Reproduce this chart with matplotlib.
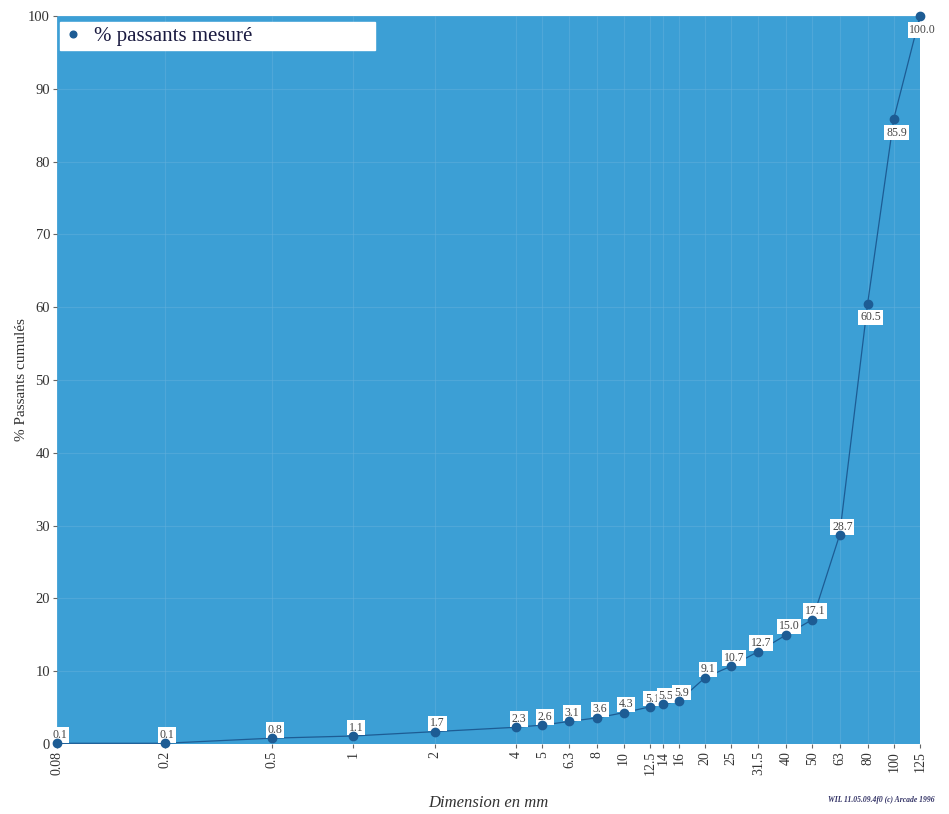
import numpy as np
import matplotlib
matplotlib.use("Agg")
import matplotlib.pyplot as plt
from matplotlib.ticker import FixedLocator, NullLocator

# sieve sizes (mm) and cumulative % passing
sizes = [0.08, 0.2, 0.5, 1, 2, 4, 5, 6.3, 8, 10, 12.5, 14, 16, 20, 25,
         31.5, 40, 50, 63, 80, 100, 125]
passing = [0.1, 0.1, 0.8, 1.1, 1.7, 2.3, 2.6, 3.1, 3.6, 4.3, 5.1, 5.5, 5.9,
           9.1, 10.7, 12.7, 15.0, 17.1, 28.7, 60.5, 85.9, 100.0]
tick_labels = ["0.08", "0.2", "0.5", "1", "2", "4", "5", "6.3", "8", "10",
               "12.5", "14", "16", "20", "25", "31.5", "40", "50", "63",
               "80", "100", "125"]
yticks = [0, 10, 20, 30, 40, 50, 60, 70, 80, 90, 100]

BG = "#3c9fd5"
DOT = "#1d5c94"
SERIF = ["Liberation Serif", "DejaVu Serif"]

plt.rcParams["font.family"] = SERIF

fig = plt.figure(figsize=(9.49, 8.14), dpi=100)
ax = fig.add_axes([57/949, 70/814, 863/949, 728/814])
ax.set_facecolor(BG)
ax.set_xscale("log")
ax.set_xlim(0.08, 125)
ax.set_ylim(0, 100)

ax.xaxis.set_major_locator(FixedLocator(sizes))
ax.xaxis.set_minor_locator(NullLocator())
ax.set_xticklabels(tick_labels, rotation=90, fontsize=10, color="#333333")
ax.set_yticks(yticks)
ax.set_yticklabels([str(v) for v in yticks], fontsize=10.5, color="#333333")
ax.tick_params(axis="both", length=3, color="#666666", pad=2)

ax.grid(True, color="#62b0dc", lw=0.8, alpha=0.5)
for s in ax.spines.values():
    s.set_visible(False)

ax.plot(sizes, passing, "-", color=DOT, lw=0.9, zorder=3, clip_on=False)
ax.plot(sizes, passing, "o", color=DOT, ms=6, zorder=5, clip_on=False,
        label="% passants mesuré")

for i, (x, y) in enumerate(zip(sizes, passing)):
    dy = -10 if i >= 19 else 6
    ax.annotate(f"{y:.1f}", (x, y), xytext=(2, dy), textcoords="offset points",
                ha="center", va="center", fontsize=8.5, color="#444444",
                bbox=dict(boxstyle="square,pad=0.15", fc="white", ec="none"),
                zorder=4, annotation_clip=False)

leg = ax.legend(loc="lower left", bbox_to_anchor=(0.004, 0.953, 0.365, 0.035),
                mode="expand", frameon=True, fancybox=False, framealpha=1,
                edgecolor="white", fontsize=15, handlelength=0.8,
                handletextpad=0.6, borderpad=0.2, borderaxespad=0,
                markerscale=0.8)
for t in leg.get_texts():
    t.set_color("#1a1a40")

ax.set_xlabel("Dimension en mm", fontsize=12, style="italic", color="#333333",
              labelpad=14)
ax.set_ylabel("% Passants cumulés", fontsize=11, color="#333333", labelpad=0)

fig.text(0.985, 0.012, "WIL 11.05.09.4f0 (c) Arcade 1996", ha="right",
         va="bottom", fontsize=5.5, style="italic", weight="bold",
         color="#333366")

fig.savefig("out.png", dpi=100)
